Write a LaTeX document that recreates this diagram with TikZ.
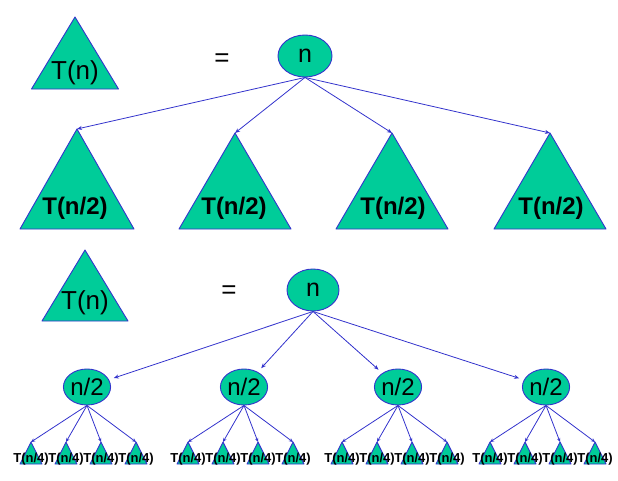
\documentclass[tikz,border=0pt]{standalone}
\usepackage{fontspec}
\setmainfont{Liberation Sans}
\usetikzlibrary{arrows.meta,shapes.geometric}
\definecolor{tealfill}{RGB}{0,204,153}
\definecolor{edgeblue}{RGB}{51,51,204}
\tikzset{
  tri/.style={draw=edgeblue, fill=tealfill, line width=0.9pt, line join=round},
  ell/.style={ellipse, draw=edgeblue, fill=tealfill, line width=0.9pt, inner sep=0pt},
  arr/.style={draw=edgeblue, line width=0.8pt, -{Stealth[length=5pt,width=4pt]}},
  bigtxt/.style={inner sep=0pt, font=\fontsize{26}{26}\selectfont},
  midtxt/.style={inner sep=0pt, font=\fontsize{24}{24}\selectfont\bfseries},
  smalltxt/.style={inner sep=0pt, font=\fontsize{13}{13}\selectfont\bfseries},
}
% triangle: name, apex x, apex y, half width, height
\newcommand{\tri}[5]{%
  \coordinate (#1) at (#2,#3);
  \draw[tri] (#1) -- ++(#4,#5) -- ++(-2*#4,0) -- cycle;}

\begin{document}
\begin{tikzpicture}[x=1pt,y=-1pt]
    \useasboundingbox (0,0) rectangle (618,480);

    % first line: T(n) = n + four T(n/2)
    \tri{tn1}{75}{17}{43.5}{72}
    \node[bigtxt] (tnlab1) at (75,73) {T(n)};
    \node[bigtxt] (eq1) at (222,60) {=};
    \node[ell, minimum width=54pt, minimum height=42pt, font=\fontsize{25}{25}\selectfont] (root1) at (305,56) {n};

    \tri{a1}{77}{129}{57}{100}
    \tri{a2}{235}{133}{56}{96}
    \tri{a3}{392}{133}{56}{96}
    \tri{a4}{550}{133}{56}{96}

    \node[midtxt] (alab1) at (75,208) {T(n/2)};
    \node[midtxt] (alab2) at (234,208) {T(n/2)};
    \node[midtxt] (alab3) at (393,208) {T(n/2)};
    \node[midtxt] (alab4) at (551,208) {T(n/2)};

    \draw[arr] (root1.south) -- (a1);
    \draw[arr] (root1.south) -- (a2);
    \draw[arr] (root1.south) -- (a3);
    \draw[arr] (root1.south) -- (a4);

    % second line: one level more
    \tri{tn2}{85}{250}{43}{71}
    \node[bigtxt] (tnlab2) at (85,303) {T(n)};
    \node[bigtxt] (eq2) at (229,292) {=};
    \node[ell, minimum width=52pt, minimum height=42pt, font=\fontsize{25}{25}\selectfont] (root2) at (313,290) {n};

    \foreach \c [count=\i] in {87,244,398,546} {
        \node[ell, minimum width=45pt, minimum height=36pt, font=\fontsize{24}{24}\selectfont] (h\i) at (\c,387) {n/2};
        \draw[arr, shorten >=5pt] (root2.south) -- (h\i);
        \foreach \d [count=\j] in {-53,-18,17,52} {
            \tri{s\i\j}{\c-3+\d}{442}{11}{22}
            \draw[arr, -{Stealth[length=4pt,width=3.5pt]}] (h\i.south) -- (s\i\j);
            \node[smalltxt] (sl\i\j) at (\c-3+\d,459) {T(n/4)};
        }
    }
\end{tikzpicture}
\end{document}
